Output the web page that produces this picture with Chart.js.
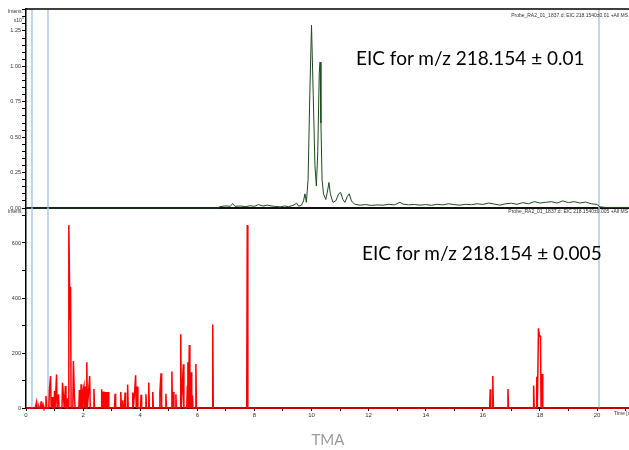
<!DOCTYPE html>
<html>
<head>
<meta charset="utf-8">
<script src="https://cdn.jsdelivr.net/npm/chart.js@4.4.1/dist/chart.umd.min.js"></script>
<style>
body { margin: 0; width: 629px; height: 450px; overflow: hidden; background: #fff; position: relative; font-family: "Liberation Sans", Arial, sans-serif; }
canvas { position: absolute; left: 0; }
#topo { top: 0; }
#baixo { top: 200px; }
.miudo { position: absolute; font-size: 5px; line-height: 6px; color: #333; white-space: nowrap; }
.miudo.dir { text-align: right; }
.eic { position: absolute; font-family: Lato, "Open Sans", sans-serif; font-size: 19px; line-height: 22px; color: #000; white-space: nowrap; }
#tma { position: absolute; left: 0; width: 656px; top: 430px; text-align: center; font-family: Lato, "Open Sans", sans-serif; font-size: 15px; color: #9a9a9a; }
</style>
</head>
<body>
<canvas id="topo" width="629" height="215"></canvas>
<canvas id="baixo" width="629" height="235"></canvas>

<div class="miudo dir" style="right:606px; top:8px;">Intens.</div>
<div class="miudo dir" style="right:605px; top:15px;">x10<sup style="font-size:4px">5</sup></div>
<div class="miudo dir" style="right:606px; top:208px;">Intens.</div>
<div class="miudo dir" style="right:1px; top:12px;">Probe_RA2_01_1837.d: EIC 218.1540±0.01 +All MS</div>
<div class="miudo dir" style="right:1px; top:208px;">Probe_RA2_01_1837.d: EIC 218.1540±0.005 +All MS</div>
<div class="miudo" style="left:614px; top:410px;">Time [min]</div>

<div class="eic" style="left:356px; top:47px;">EIC for m/z 218.154 ± 0.01</div>
<div class="eic" style="left:362px; top:242px;">EIC for m/z 218.154 ± 0.005</div>
<div id="tma">TMA</div>

<script>
// EIC 218.1540 ±0.01 (intensity x10^5)
const tempoVerde = [0, 6.7, 6.8, 7.0, 7.15, 7.24, 7.32, 7.5, 7.7, 7.85, 8.0, 8.14, 8.3, 8.45, 8.55, 8.7, 8.9, 9.05, 9.2, 9.35,
  9.48, 9.55, 9.65, 9.72, 9.77, 9.82, 9.88, 9.94, 10.0, 10.06, 10.12, 10.17, 10.22, 10.27, 10.30, 10.33, 10.37, 10.42, 10.5, 10.56,
  10.61, 10.66, 10.75, 10.85, 10.95, 11.02, 11.1, 11.17, 11.25, 11.32, 11.4, 11.5, 11.7, 11.9, 12.1, 12.3, 12.5, 12.7, 12.9, 13.1,
  13.2, 13.4, 13.6, 13.8, 14.0, 14.2, 14.4, 14.6, 14.8, 15.0, 15.2, 15.4, 15.6, 15.8, 16.0, 16.2, 16.4, 16.6, 16.8, 17.0,
  17.2, 17.4, 17.6, 17.8, 18.0, 18.2, 18.4, 18.6, 18.8, 19.0, 19.2, 19.4, 19.6, 19.8, 20.0, 20.1, 20.3, 21.12];
const intensVerde = [0, 0, 0.01, 0.015, 0.012, 0.03, 0.012, 0.014, 0.01, 0.016, 0.012, 0.024, 0.014, 0.02, 0.016, 0.012, 0.008, 0.014, 0.01, 0.018,
  0.034, 0.012, 0.02, 0.05, 0.10, 0.04, 0.2, 0.8, 1.29, 0.8, 0.3, 0.155, 0.4, 0.95, 1.03, 0.6, 0.2, 0.1, 0.06, 0.12,
  0.18, 0.1, 0.04, 0.05, 0.1, 0.11, 0.06, 0.04, 0.08, 0.10, 0.05, 0.028, 0.02, 0.024, 0.018, 0.022, 0.02, 0.026, 0.022, 0.04,
  0.028, 0.022, 0.025, 0.02, 0.024, 0.019, 0.026, 0.022, 0.03, 0.024, 0.02, 0.026, 0.023, 0.03, 0.025, 0.035, 0.028, 0.02, 0.03, 0.034,
  0.026, 0.038, 0.03, 0.045, 0.035, 0.04, 0.045, 0.035, 0.05, 0.038, 0.045, 0.035, 0.042, 0.03, 0.025, 0.008, 0.004, 0.004];

// EIC 218.1540 ±0.005, spike apex times and intensities
const tempoPicos = [0.30, 0.37, 0.45, 0.53, 0.60, 0.70, 0.82, 0.86, 0.92, 1.00, 1.07, 1.14, 1.28, 1.32, 1.38, 1.44, 1.50, 1.54, 1.56, 1.66,
  1.70, 1.87, 1.93, 1.99, 2.03, 2.08, 2.13, 2.19, 2.23, 2.38, 2.65, 2.71, 2.77, 2.83, 2.88, 3.12, 3.32, 3.39, 3.47, 3.56,
  3.74, 3.80, 3.84, 3.90, 4.03, 4.20, 4.30, 4.44, 4.69, 4.73, 4.90, 5.11, 5.16, 5.25, 5.42, 5.47, 5.51, 5.65, 5.67, 5.72,
  5.78, 5.83, 5.95, 6.54, 7.75, 16.26, 16.35, 16.88, 17.78, 17.89, 17.95, 17.98, 18.02, 18.08];
const alturaPicos = [0, 22, 6, 24, 10, 44, 65, 116, 40, 62, 122, 50, 92, 30, 80, 35, 665, 320, 441, 171,
  30, 65, 86, 58, 80, 78, 166, 58, 116, 69, 68, 60, 58, 58, 58, 52, 58, 28, 56, 85,
  56, 52, 119, 78, 48, 50, 93, 58, 58, 126, 52, 133, 58, 50, 268, 62, 159, 78, 166, 229,
  130, 45, 160, 304, 665, 68, 116, 69, 82, 114, 290, 262, 262, 124];

const rotulosX = ['0', '2', '4', '6', '8', '10', '12', '14', '16', '18', '20'];
const rotulosYTopo = ['0.00', '0.25', '0.50', '0.75', '1.00', '1.25'];
const rotulosYBaixo = ['0', '200', '400', '600'];
const tempoMarcas = [0.21, 0.77, 20.07];

const fonteEixo = { family: 'Liberation Sans', size: 5.5 };

// zero baseline between separated spikes
function montarPicos() {
  const pts = [{ x: 0, y: 0 }];
  const meia = 0.02;
  for (let i = 0; i < tempoPicos.length; i++) {
    const t = tempoPicos[i];
    const antes = i > 0 ? t - tempoPicos[i - 1] : 1;
    const depois = i < tempoPicos.length - 1 ? tempoPicos[i + 1] - t : 1;
    if (antes > 0.045) pts.push({ x: t - meia, y: 0 });
    pts.push({ x: t, y: alturaPicos[i] });
    if (depois > 0.045) pts.push({ x: t + meia, y: 0 });
  }
  pts.push({ x: 21.12, y: 0 });
  return pts;
}

const marcas = {
  id: 'marcas',
  beforeDatasetsDraw(chart, args, opts) {
    const { ctx, chartArea, scales } = chart;
    ctx.save();
    ctx.strokeStyle = '#a8cbee';
    ctx.lineWidth = 1.5;
    tempoMarcas.forEach(t => {
      const x = scales.x.getPixelForValue(t);
      ctx.beginPath();
      ctx.moveTo(x, chartArea.top - (opts.emenda || 0));
      ctx.lineTo(x, chartArea.bottom);
      ctx.stroke();
    });
    if (opts.borda) {
      ctx.strokeStyle = '#000';
      ctx.lineWidth = 1.5;
      ctx.beginPath();
      ctx.moveTo(chartArea.left, chartArea.top);
      ctx.lineTo(chartArea.right, chartArea.top);
      ctx.stroke();
    }
    ctx.restore();
  }
};

function eixoX(altura, comRotulos) {
  return {
    type: 'linear',
    min: 0,
    max: 21.12,
    afterFit(s) { s.height = altura; },
    afterBuildTicks(s) {
      const t = [];
      for (let v = 0; v <= 21; v++) t.push({ value: v });
      s.ticks = t;
    },
    ticks: {
      display: comRotulos,
      font: { family: 'Liberation Sans', size: 6 },
      color: '#333',
      padding: 1,
      maxRotation: 0,
      autoSkip: false,
      callback: v => (v % 2 === 0 ? rotulosX[v / 2] : '')
    },
    grid: { display: comRotulos, drawOnChartArea: false, tickLength: 3, color: '#000' },
    border: { display: true, color: '#111', width: 2 }
  };
}

function eixoY(max, passo, maior, rotulos) {
  return {
    min: 0,
    max: max,
    afterFit(s) { s.width = 26; },
    afterBuildTicks(s) {
      const t = [];
      for (let i = 0; i * passo <= max; i++) t.push({ value: +(i * passo).toFixed(3) });
      s.ticks = t;
    },
    ticks: {
      font: fonteEixo,
      color: '#333',
      padding: 1,
      autoSkip: false,
      callback: v => {
        const k = Math.round(v / maior);
        return Math.abs(v - k * maior) < 1e-6 && rotulos[k] ? rotulos[k] : '';
      }
    },
    grid: { drawOnChartArea: false, tickLength: 4, color: '#000', lineWidth: 1 },
    border: { display: true, color: '#000', width: 1.5 }
  };
}

const comum = {
  responsive: false,
  animation: false,
  devicePixelRatio: 1,
  plugins: { legend: { display: false }, tooltip: { enabled: false } }
};

new Chart(document.getElementById('topo'), {
  type: 'line',
  data: {
    datasets: [{
      data: tempoVerde.map((t, i) => ({ x: t, y: intensVerde[i] })),
      borderColor: '#1c4a1c',
      borderWidth: 1,
      pointRadius: 0,
      tension: 0,
      clip: 3
    }]
  },
  options: {
    ...comum,
    layout: { padding: { top: 9, left: 0, right: 0, bottom: 0 } },
    plugins: { ...comum.plugins, marcas: { borda: true } },
    scales: {
      x: eixoX(7, false),
      y: eixoY(1.405, 0.05, 0.25, rotulosYTopo)
    }
  },
  plugins: [marcas]
});

new Chart(document.getElementById('baixo'), {
  type: 'line',
  data: {
    datasets: [{
      data: montarPicos(),
      borderColor: '#ff0000',
      borderWidth: 1.5,
      pointRadius: 0,
      tension: 0,
      clip: 3
    }]
  },
  options: {
    ...comum,
    layout: { padding: { top: 10, left: 0, right: 0, bottom: 0 } },
    plugins: { ...comum.plugins, marcas: { emenda: 2 } },
    scales: {
      x: eixoX(27, true),
      y: eixoY(720, 100, 200, rotulosYBaixo)
    }
  },
  plugins: [marcas]
});
</script>
</body>
</html>
